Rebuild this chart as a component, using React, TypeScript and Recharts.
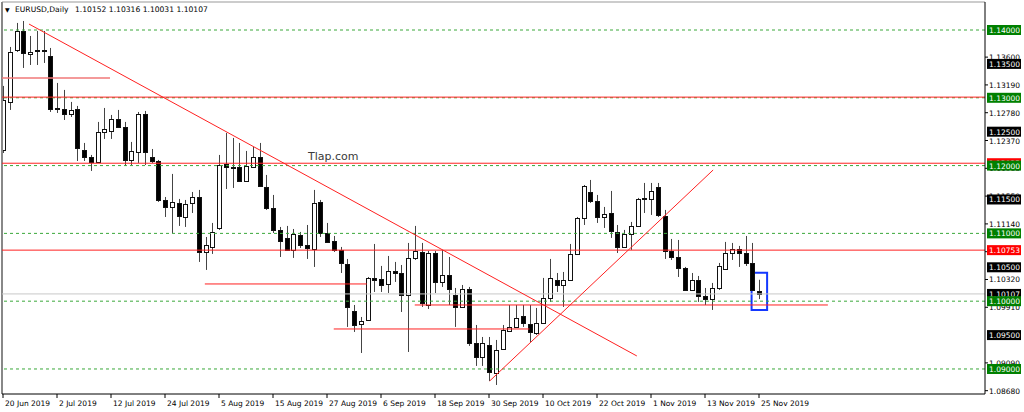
import React from "react";
import {
  ComposedChart,
  Bar,
  XAxis,
  YAxis,
  ReferenceLine,
  ReferenceArea,
} from "recharts";

// Daily EURUSD bars, 20 Jun 2019 .. 25 Nov 2019 (weekdays)
const opens = [
  1.12231, 1.12939, 1.13706, 1.13986, 1.13647, 1.13706, 1.13706, 1.13617, 1.1285, 1.12835,
  1.12762, 1.12835, 1.12231, 1.12127, 1.12054, 1.12496, 1.12511, 1.12688, 1.1257, 1.12083,
  1.12201, 1.12762, 1.12127, 1.12068, 1.11493, 1.1139, 1.11449, 1.11242, 1.11449, 1.11537,
  1.10726, 1.108, 1.1108, 1.12024, 1.11965, 1.1198, 1.11773, 1.1198, 1.12127, 1.11685,
  1.11375, 1.11051, 1.10933, 1.10756, 1.10977, 1.10829, 1.1077, 1.11464, 1.11006, 1.10888,
  1.10756, 1.10549, 1.09856, 1.09664, 1.09723, 1.10343, 1.10328, 1.10254, 1.10446, 1.10416,
  1.10092, 1.10638, 1.10726, 1.09944, 1.10711, 1.10284, 1.10387, 1.10092, 1.09915, 1.1018,
  1.09384, 1.09177, 1.09354, 1.08941, 1.09295, 1.09561, 1.0962, 1.09782, 1.09664, 1.09531,
  1.09679, 1.10048, 1.10313, 1.10239, 1.10313, 1.10697, 1.11228, 1.11611, 1.11478, 1.11242,
  1.11301, 1.11021, 1.108, 1.10992, 1.1111, 1.11523, 1.11508, 1.11685, 1.11257, 1.10741,
  1.10652, 1.1049, 1.10166, 1.10313, 1.10077, 1.10033, 1.10195, 1.10475, 1.10711, 1.1077,
  1.10711, 1.10564, 1.10152,
];
const highs = [
  1.13175, 1.1375, 1.14104, 1.14133, 1.13912, 1.13986, 1.13986, 1.13735, 1.13219, 1.13116,
  1.12939, 1.1288, 1.12334, 1.12157, 1.12644, 1.1285, 1.12747, 1.12821, 1.12644, 1.12349,
  1.12791, 1.12806, 1.12245, 1.12083, 1.11537, 1.11877, 1.11508, 1.11493, 1.11611, 1.11641,
  1.10947, 1.11154, 1.12157, 1.12481, 1.12408, 1.12334, 1.12216, 1.12275, 1.12334, 1.11862,
  1.11567, 1.11095, 1.1111, 1.11065, 1.11021, 1.11124, 1.11641, 1.11493, 1.11154, 1.10962,
  1.108, 1.10623, 1.09944, 1.09767, 1.10357, 1.10844, 1.1052, 1.10667, 1.10579, 1.10534,
  1.10859, 1.1111, 1.10859, 1.10741, 1.10741, 1.10756, 1.10652, 1.10195, 1.10239, 1.1021,
  1.09649, 1.09472, 1.09472, 1.09428, 1.09649, 1.09944, 1.09944, 1.09944, 1.09944, 1.099,
  1.10343, 1.10623, 1.10416, 1.10431, 1.10844, 1.11242, 1.11714, 1.11788, 1.11567, 1.1139,
  1.11626, 1.11124, 1.11051, 1.11169, 1.11523, 1.11744, 1.11744, 1.11744, 1.11346, 1.10918,
  1.10903, 1.10505, 1.10416, 1.10372, 1.10195, 1.10269, 1.10564, 1.10874, 1.10859, 1.10815,
  1.10962, 1.10859, 1.10316,
];
const lows = [
  1.12186, 1.12821, 1.13676, 1.1344, 1.13484, 1.13484, 1.13514, 1.12791, 1.12776, 1.12673,
  1.12717, 1.12068, 1.12068, 1.11921, 1.12039, 1.12393, 1.12393, 1.12555, 1.11995, 1.12009,
  1.12039, 1.12009, 1.12039, 1.11464, 1.11242, 1.11006, 1.1111, 1.11095, 1.11301, 1.10579,
  1.10461, 1.10697, 1.11051, 1.11655, 1.1167, 1.11759, 1.11759, 1.11965, 1.11685, 1.11346,
  1.11006, 1.10652, 1.10741, 1.10638, 1.10785, 1.10623, 1.10505, 1.10947, 1.10859, 1.10726,
  1.10416, 1.0962, 1.09546, 1.09236, 1.09708, 1.10136, 1.10136, 1.10121, 1.10284, 1.09841,
  1.09251, 1.10608, 1.09915, 1.09885, 1.10121, 1.1021, 1.09944, 1.0962, 1.099, 1.0934,
  1.09045, 1.09045, 1.08823, 1.08764, 1.09281, 1.09546, 1.09605, 1.0962, 1.09399, 1.09502,
  1.09679, 1.09989, 1.10136, 1.09915, 1.10298, 1.10682, 1.11124, 1.11449, 1.11154, 1.1108,
  1.10933, 1.10711, 1.10785, 1.10756, 1.11095, 1.11301, 1.11272, 1.11242, 1.10623, 1.10608,
  1.10357, 1.10151, 1.10151, 1.09989, 1.09944, 1.09871, 1.10166, 1.10461, 1.10608, 1.10505,
  1.1052, 1.10151, 1.10031,
];
const closes = [
  1.12968, 1.13676, 1.13986, 1.13661, 1.13676, 1.13691, 1.13698, 1.12835, 1.12835, 1.12762,
  1.12821, 1.1226, 1.12127, 1.12054, 1.12496, 1.1254, 1.12688, 1.1257, 1.12083, 1.12216,
  1.12762, 1.12201, 1.12068, 1.11493, 1.1139, 1.11464, 1.11257, 1.11434, 1.11537, 1.10726,
  1.10829, 1.11021, 1.12009, 1.1198, 1.11985, 1.11773, 1.11995, 1.12127, 1.117, 1.11375,
  1.11051, 1.10888, 1.10756, 1.10992, 1.10829, 1.10785, 1.11449, 1.11006, 1.10874, 1.10756,
  1.10564, 1.09915, 1.09649, 1.09708, 1.10343, 1.10313, 1.10239, 1.10446, 1.10416, 1.10092,
  1.10638, 1.10741, 1.09974, 1.10711, 1.10284, 1.10387, 1.1018, 1.09915, 1.1018, 1.09384,
  1.09177, 1.09384, 1.08956, 1.09281, 1.09576, 1.0962, 1.09753, 1.09679, 1.09546, 1.09679,
  1.10048, 1.10343, 1.10239, 1.10313, 1.10697, 1.11228, 1.117, 1.11478, 1.11242, 1.11287,
  1.11036, 1.108, 1.10992, 1.1111, 1.11508, 1.11508, 1.11626, 1.11272, 1.10741, 1.10652,
  1.1049, 1.10166, 1.10313, 1.10077, 1.10033, 1.10195, 1.1052, 1.10711, 1.1077, 1.10711,
  1.10564, 1.10166, 1.10107,
];

// date axis: bar index of each label
const dateTickBars = [0, 8, 16, 24, 32, 40, 48, 56, 64, 72, 80, 88, 96, 104, 112];
const dateTickLabels = [
  "20 Jun 2019", "2 Jul 2019", "12 Jul 2019", "24 Jul 2019", "5 Aug 2019",
  "15 Aug 2019", "27 Aug 2019", "6 Sep 2019", "18 Sep 2019", "30 Sep 2019",
  "10 Oct 2019", "22 Oct 2019", "1 Nov 2019", "13 Nov 2019", "25 Nov 2019",
];

// price scale
const plainPriceTicks = [
  1.136, 1.1319, 1.1278, 1.1237, 1.1196, 1.1155, 1.1114, 1.1073, 1.1032, 1.0991, 1.0909, 1.0868,
];
const roundLevels = [1.14, 1.13, 1.12, 1.11, 1.1, 1.09];
const halfLevels = [1.135, 1.125, 1.115, 1.105, 1.095];
const redLevels = [1.1301, 1.12035, 1.10753];
const bidPrice = 1.10107;

// drawn objects
const trendLines = [
  { bar1: 3.85, price1: 1.14088, bar2: 93.9, price2: 1.09192 },
  { bar1: 72.1, price1: 1.08823, bar2: 105.2, price2: 1.11935 },
];
const zoneLines = [
  { bar1: -0.15, bar2: 15.85, price: 1.13292 },
  { bar1: 29.9, bar2: 53.9, price: 1.10254 },
  { bar1: 49, bar2: 78, price: 1.0959 },
  { bar1: 61, bar2: 122.2, price: 1.09944 },
];
const markBox = { bar1: 110.9, bar2: 113.2, price1: 1.0987, price2: 1.1042 };

const yDomain = [1.08631, 1.14413];
const xDomain = [-0.15, 145.48];

const chartData = opens.map((open, i) => ({
  bar: i,
  open,
  high: highs[i],
  low: lows[i],
  close: closes[i],
  range: [lows[i], highs[i]],
}));

const FONT = "DejaVu Sans, sans-serif";

const near = (a: number, b: number) => Math.abs(a - b) < 1e-7;

const boxColor = (v: number) => {
  if (roundLevels.some((l) => near(l, v))) return "#008000";
  if (redLevels.some((l) => near(l, v))) return "#ff0000";
  if (halfLevels.some((l) => near(l, v)) || near(v, bidPrice)) return "#000000";
  return null;
};

const priceTicks = [
  ...plainPriceTicks,
  ...halfLevels,
  1.12035,
  1.10753,
  bidPrice,
  ...roundLevels,
];

const Candle = (props: any) => {
  const { x, y, width, height, payload } = props;
  if (x == null || !payload) return null;
  const top = Math.min(y, y + height);
  const bottom = Math.max(y, y + height);
  const span = payload.high - payload.low || 1;
  const toPx = (p: number) => top + ((payload.high - p) / span) * (bottom - top);
  const cx = Math.round(x + width / 2);
  const yo = toPx(payload.open);
  const yc = toPx(payload.close);
  const up = payload.close >= payload.open;
  const bTop = Math.round(Math.min(yo, yc)) + 0.5;
  const bH = Math.max(Math.round(Math.abs(yo - yc)), 1);
  return (
    <g>
      <line x1={cx + 0.5} x2={cx + 0.5} y1={top} y2={bottom} stroke="#444" />
      <rect
        x={cx - 1.5}
        y={bTop}
        width={4}
        height={bH}
        fill={up ? "#ffffff" : "#000000"}
        stroke="#111"
      />
    </g>
  );
};

const DateTick = (props: any) => {
  const { x, y, payload } = props;
  const idx = dateTickBars.indexOf(payload.value);
  return (
    <g>
      <line x1={x} x2={x} y1={y} y2={y + 4} stroke="#000" />
      <text x={x + 2} y={y + 12} fontSize={7.5} fontFamily={FONT} fill="#000">
        {dateTickLabels[idx]}
      </text>
    </g>
  );
};

const PriceTick = (props: any) => {
  const { x, y, payload } = props;
  const v = payload.value as number;
  const color = boxColor(v);
  const label = v.toFixed(5);
  if (!color) {
    return (
      <g>
        <line x1={x} x2={x + 3} y1={y} y2={y} stroke="#000" />
        <text x={x + 4} y={y + 3} fontSize={7.5} fontFamily={FONT} fill="#000">
          {label}
        </text>
      </g>
    );
  }
  return (
    <g>
      <rect x={x + 2} y={y - 5} width={34} height={10} fill={color} />
      <text x={x + 4} y={y + 3} fontSize={7.5} fontFamily={FONT} fill="#fff">
        {label}
      </text>
    </g>
  );
};

export default function App() {
  return (
    <div style={{ position: "absolute", left: 0, top: 0, width: 1024, height: 412, background: "#fff" }}>
      <ComposedChart
        width={1024}
        height={412}
        data={chartData}
        margin={{ top: 2, right: 0, bottom: 0, left: 2 }}
      >
        <XAxis
          dataKey="bar"
          type="number"
          domain={xDomain}
          allowDataOverflow
          ticks={dateTickBars}
          interval={0}
          tickLine={false}
          tickSize={0}
          tickMargin={0}
          height={18}
          axisLine={{ stroke: "#000" }}
          tick={<DateTick />}
        />
        <YAxis
          orientation="right"
          type="number"
          domain={yDomain}
          allowDataOverflow
          ticks={priceTicks}
          interval={0}
          tickLine={false}
          tickSize={0}
          tickMargin={0}
          width={39}
          axisLine={{ stroke: "#000" }}
          tick={<PriceTick />}
        />
        <ReferenceLine y={yDomain[1]} stroke="#999" />
        <ReferenceLine x={xDomain[0]} stroke="#888" strokeWidth={2} />
        {roundLevels.map((l) => (
          <ReferenceLine key={"g" + l} y={l} stroke="#3aa83a" strokeDasharray="3 3" />
        ))}
        <ReferenceLine y={bidPrice} stroke="#c8c8c8" />
        {redLevels.map((l) => (
          <ReferenceLine key={"r" + l} y={l} stroke="#ff2020" />
        ))}
        {zoneLines.map((z, i) => (
          <ReferenceLine
            key={"z" + i}
            segment={[
              { x: z.bar1, y: z.price },
              { x: z.bar2, y: z.price },
            ]}
            stroke={i === 0 ? "#f07878" : "#ff2020"}
            strokeWidth={i === 0 ? 1.5 : 1}
            ifOverflow="visible"
          />
        ))}
        {trendLines.map((t, i) => (
          <ReferenceLine
            key={"t" + i}
            segment={[
              { x: t.bar1, y: t.price1 },
              { x: t.bar2, y: t.price2 },
            ]}
            stroke="#ff2020"
            ifOverflow="visible"
          />
        ))}
        <Bar dataKey="range" shape={Candle} barSize={5} isAnimationActive={false} />
        <ReferenceArea
          x1={markBox.bar1}
          x2={markBox.bar2}
          y1={markBox.price1}
          y2={markBox.price2}
          fill="none"
          fillOpacity={0}
          stroke="#1438ff"
          strokeWidth={2}
        />
      </ComposedChart>
      <svg
        width={1024}
        height={412}
        style={{ position: "absolute", left: 0, top: 0, pointerEvents: "none" }}
      >
        <text x={5} y={12} fontSize={7.6} fontFamily={FONT} fill="#000" style={{ whiteSpace: "pre" }}>
          <tspan fontSize={6}>▼</tspan>
          <tspan x={15}>EURUSD,Daily</tspan>
          <tspan x={75}>1.10152 1.10316 1.10031 1.10107</tspan>
        </text>
        <text x={308} y={160} fontSize={11} fontFamily={FONT} fill="#3a3a3a">
          Tlap.com
        </text>
      </svg>
    </div>
  );
}
